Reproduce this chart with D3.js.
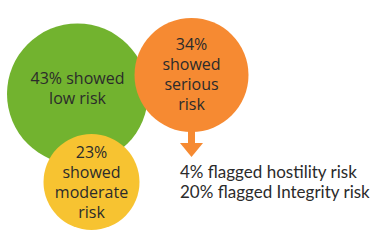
<!DOCTYPE html>
<html>
<head>
<meta charset="utf-8">
<script src="https://cdn.jsdelivr.net/npm/d3@7"></script>
<style>
  body { margin: 0; background: #fff; }
  text { font-family: "Open Sans", sans-serif; fill: #2b2b2b; }
  text.flag { font-family: Lato, sans-serif; }
</style>
</head>
<body>
<svg id="svg"></svg>
<script>
const width = 391;
const height = 243;

// data
const shares = [43, 34, 23];
const labels = [
  ["43% showed", "low risk"],
  ["34%", "showed", "serious", "risk"],
  ["23%", "showed", "moderate", "risk"]
];
const colors = ["#72b32f", "#f68a32", "#f7c331"];
const flagged = ["4% flagged hostility risk", "20% flagged Integrity risk"];

// layout
const centers = [[77.5, 94], [191.5, 75], [91.5, 182]];
const textShift = [0, 5, 6];
const lineH = 20;

const svg = d3.select("#svg")
  .attr("width", width)
  .attr("height", height)
  .attr("viewBox", `0 0 ${width} ${height}`);

const radius = d3.scaleLinear()
  .domain([23, 34, 43])
  .range([48, 57, 70.5]);

const bubbles = svg.selectAll("g.bubble")
  .data(shares)
  .enter().append("g")
  .attr("class", "bubble")
  .attr("transform", (d, i) => `translate(${centers[i][0]},${centers[i][1]})`);

// arrow from the orange bubble, drawn before it so the stem tucks under
const oc = centers[1];
const arrow = svg.insert("g", "g.bubble")
  .attr("fill", colors[1]);
arrow.append("rect")
  .attr("x", oc[0] - 3.5)
  .attr("y", oc[1] + radius(shares[1]) - 4)
  .attr("width", 7)
  .attr("height", 16);
arrow.append("path")
  .attr("d", d3.line()([[oc[0] - 11.5, 143], [oc[0] + 11.5, 143], [oc[0], 157]]));

bubbles.append("text")
  .attr("text-anchor", "middle")
  .style("font-size", "16px");

bubbles.insert("circle", "text")
  .attr("r", d => radius(d))
  .attr("fill", (d, i) => colors[i]);

bubbles.select("text")
  .each(function(d, i) {
    const lines = labels[i];
    const y0 = -((lines.length - 1) * lineH) / 2 + textShift[i];
    d3.select(this).selectAll("tspan")
      .data(lines)
      .enter().append("tspan")
      .attr("x", 0)
      .attr("y", (t, j) => y0 + j * lineH)
      .text(t => t);
  });

svg.selectAll("text.flag")
  .data(flagged)
  .enter().append("text")
  .attr("class", "flag")
  .style("font-size", "17px")
  .attr("x", 180)
  .attr("y", (d, i) => 178 + i * lineH)
  .text(d => d);
</script>
</body>
</html>
